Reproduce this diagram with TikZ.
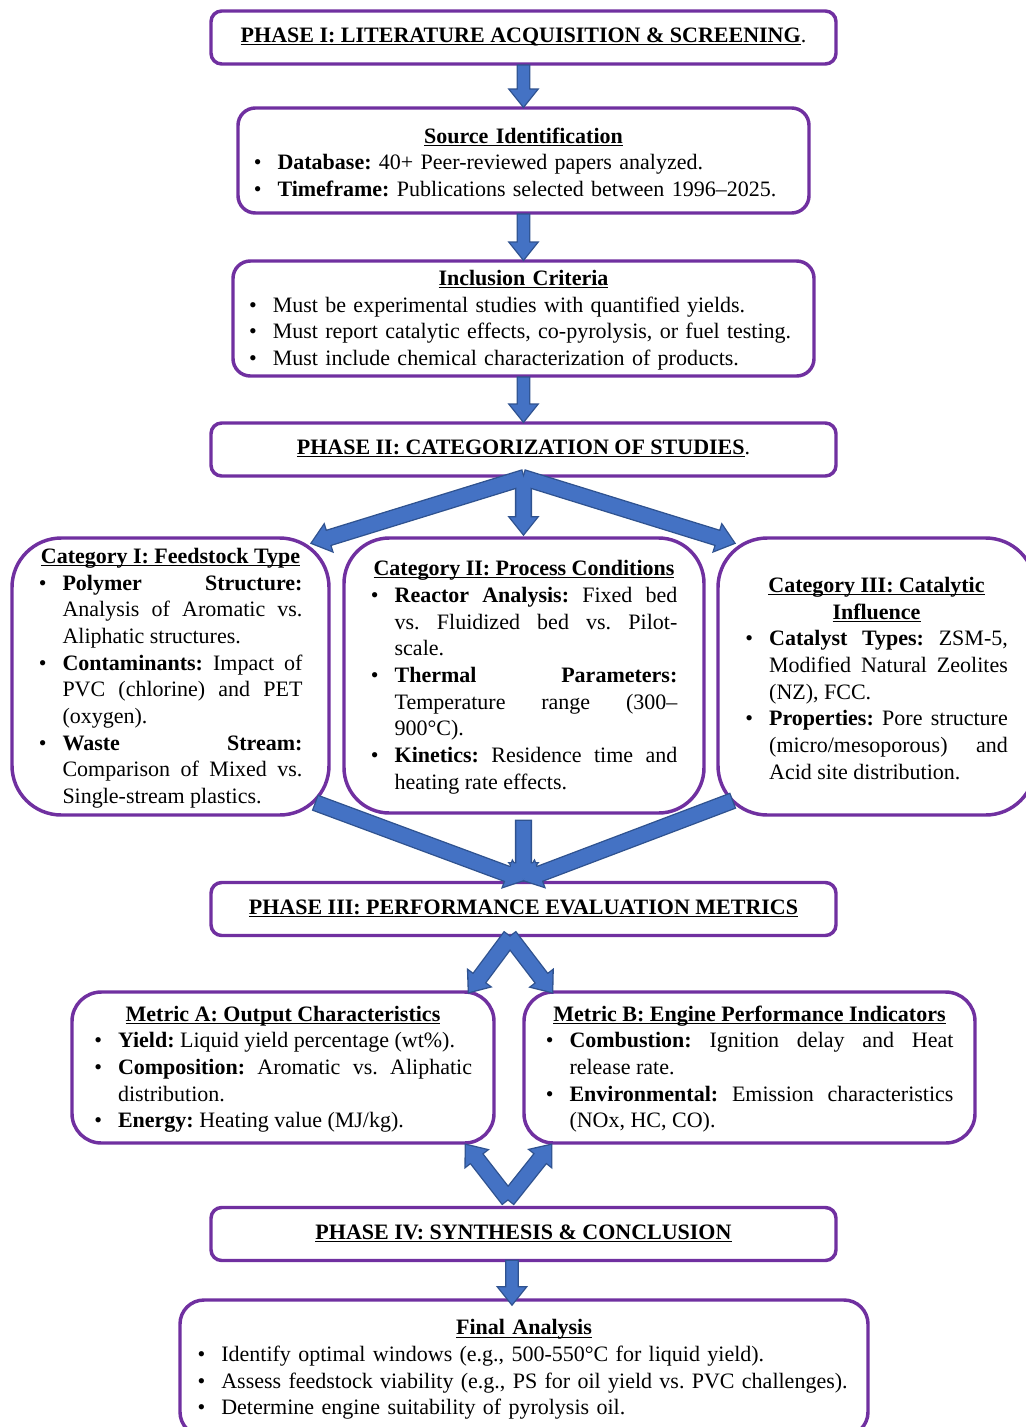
\documentclass[tikz,border=0pt]{standalone}
\usepackage{fontspec}
\setmainfont{Liberation Serif}[WordSpace={1,1.5,0}]
\usepackage{xcolor}
\usepackage{tikz}
\usetikzlibrary{calc}

\definecolor{boxpurple}{HTML}{7030A0}
\definecolor{arrowblue}{HTML}{4472C4}
\definecolor{arrowdark}{HTML}{2F528F}

\frenchspacing
\hyphenpenalty=10000
\tolerance=9999
\emergencystretch=20pt

% underlined bold heading, line cuts through descenders
\newcommand\headline[1]{\underline{\smash{\textbf{#1}}}\strut}
\newenvironment{points}{\begin{list}{\textbullet}{%
  \setlength\leftmargin{18pt}\setlength\labelwidth{6pt}%
  \setlength\labelsep{12pt}\setlength\itemsep{0pt}%
  \setlength\topsep{0pt}\setlength\parsep{0pt}\setlength\partopsep{0pt}}}%
  {\end{list}}

% block arrow: style, from, to, half shaft width
\newcommand\headw{10pt}
\newcommand\headl{12.5pt}
\newcommand\blockarrow[4]{%
  \coordinate (tipbase) at ($(#3)!\headl!(#2)$);
  \path[#1] ($(#2)!#4!90:(#3)$) -- ($(tipbase)!#4!90:(#3)$)
    -- ($(tipbase)!\headw!90:(#3)$) -- (#3)
    -- ($(tipbase)!\headw!-90:(#3)$) -- ($(tipbase)!#4!-90:(#3)$)
    -- ($(#2)!#4!-90:(#3)$) -- cycle;}

\begin{document}
\begin{tikzpicture}[x=0.75pt, y=-0.75pt,
  every node/.style={font=\fontsize{16.5}{20}\selectfont},
  phase/.style={draw=boxpurple, line width=2.6pt, fill=white,
    rounded corners=8pt, minimum width=468.75pt, minimum height=39.75pt,
    inner sep=0pt},
  infobox/.style={draw=boxpurple, line width=2.6pt, fill=white, inner sep=0pt},
  arrowline/.style={draw=arrowdark, line width=2pt},
  arrowbody/.style={fill=arrowblue}]

\useasboundingbox (0,0) rectangle (1025,1427);

% phase I
\node[phase] (ph1) at (523.5,37.5)
  {\headline{PHASE I: LITERATURE ACQUISITION \& SCREENING}.};
\node[infobox, rounded corners=13pt, minimum width=428.25pt,
  minimum height=78.75pt, text width=405pt] (src) at (523.5,160.5)
  {{\centering\headline{Source Identification}\par}\raggedright
   \begin{points}
   \item \textbf{Database:} 40+ Peer-reviewed papers analyzed.
   \item \textbf{Timeframe:} Publications selected between 1996–2025.
   \end{points}};
\node[infobox, rounded corners=13pt, minimum width=435.75pt,
  minimum height=86.25pt, text width=412pt] (incl) at (523.5,318.5)
  {{\centering\headline{Inclusion Criteria}\par}\raggedright
   \begin{points}
   \item Must be experimental studies with quantified yields.
   \item Must report catalytic effects, co-pyrolysis, or fuel testing.
   \item Must include chemical characterization of products.
   \end{points}};

% phase II
\node[phase] (ph2) at (523.5,449.5)
  {\headline{PHASE II: CATEGORIZATION OF STUDIES}.};
\node[infobox, rounded corners=37pt, minimum width=237.75pt,
  minimum height=207.75pt, text width=198pt, align=justify] (cat1) at (170.5,676.5)
  {{\centering\headline{Category I: Feedstock Type}\par}
   \begin{points}
   \item \textbf{Polymer Structure:} Analysis of Aromatic vs. Aliphatic structures.
   \item \textbf{Contaminants:} Impact of PVC (chlorine) and PET (oxygen).
   \item \textbf{Waste Stream:} Comparison of Mixed vs.\linebreak Single-stream plastics.
   \end{points}};
\node[infobox, rounded corners=34pt, minimum width=270pt,
  minimum height=206.25pt, text width=230pt, align=justify] (cat2) at (524,675.5)
  {{\centering\headline{Category II: Process Conditions}\par}
   \begin{points}
   \item \textbf{Reactor Analysis:} Fixed bed vs. Fluidized bed vs. Pilot-scale.
   \item \textbf{Thermal Parameters:} Temperature range (300–\allowbreak900°C).
   \item \textbf{Kinetics:} Residence time and heating rate effects.
   \end{points}};
\node[infobox, rounded corners=37pt, minimum width=237.75pt,
  minimum height=207.75pt, text width=197pt, align=justify] (cat3) at (876.5,676.5)
  {{\centering\headline{Category III: Catalytic}\par\headline{Influence}\par}
   \begin{points}
   \item \textbf{Catalyst Types:} ZSM-5, Modified Natural Zeolites (NZ), FCC.
   \item \textbf{Properties:} Pore structure (micro/mesoporous) and Acid site distribution.
   \end{points}};

% phase III
\node[phase] (ph3) at (523.5,909)
  {\headline{PHASE III: PERFORMANCE EVALUATION METRICS}};
\node[infobox, rounded corners=22pt, minimum width=316.5pt,
  minimum height=113.25pt, text width=283.5pt, align=justify] (metA) at (283,1067.5)
  {{\centering\headline{Metric A: Output Characteristics}\par}
   \begin{points}
   \item \textbf{Yield:} Liquid yield percentage (wt\%).
   \item \textbf{Composition:} Aromatic vs. Aliphatic distribution.
   \item \textbf{Energy:} Heating value (MJ/kg).
   \end{points}};
\node[infobox, rounded corners=22pt, minimum width=338.25pt,
  minimum height=113.25pt, text width=306pt, align=justify] (metB) at (749.5,1067.5)
  {{\centering\headline{Metric B: Engine Performance Indicators}\par}
   \begin{points}
   \item \textbf{Combustion:} Ignition delay and Heat release rate.
   \item \textbf{Environmental:} Emission characteristics (NOx, HC, CO).
   \end{points}};

% phase IV
\node[phase] (ph4) at (523.5,1234)
  {\headline{PHASE IV: SYNTHESIS \& CONCLUSION}};
\node[infobox, rounded corners=18pt, minimum width=516pt,
  minimum height=102pt, text width=490pt] (fin) at (524,1368)
  {{\centering\headline{Final Analysis}\par}\raggedright
   \begin{points}
   \item Identify optimal windows (e.g., 500-550°C for liquid yield).
   \item Assess feedstock viability (e.g., PS for oil yield vs. PVC challenges).
   \item Determine engine suitability of pyrolysis oil.
   \end{points}};

% arrow ends
\coordinate (toC1) at (312,543);
\coordinate (toC2) at (523.5,534);
\coordinate (toC3) at (734,543);
\coordinate (fromC1) at (316,803);
\coordinate (fromC2) at (523.5,821);
\coordinate (fromC3) at (732,801);
\coordinate (intoIII) at (523.5,880);
\coordinate (splitIII) at (510,937);
\coordinate (toMA) at (469,992);
\coordinate (toMB) at (552,992);
\coordinate (joinIV) at (508,1199);
\coordinate (upMA) at (466,1145);
\coordinate (upMB) at (551,1145);
\coordinate (outIV) at (512,1261);
\coordinate (inFin) at (512,1304);

% outlines first, then fills, so joined arrows merge
\foreach \sty in {arrowline,arrowbody}{
  \foreach \from/\to in {ph1.south/src.north, src.south/incl.north,
      incl.south/ph2.north, outIV/inFin}
    \blockarrow{\sty}{\from}{\to}{4.2pt};
  \foreach \from/\to in {ph2.south/toC1, ph2.south/toC2, ph2.south/toC3,
      fromC1/intoIII, fromC2/intoIII, fromC3/intoIII,
      splitIII/toMA, splitIII/toMB, joinIV/upMA, joinIV/upMB}
    \blockarrow{\sty}{\from}{\to}{5.4pt};
}
\end{tikzpicture}
\end{document}
